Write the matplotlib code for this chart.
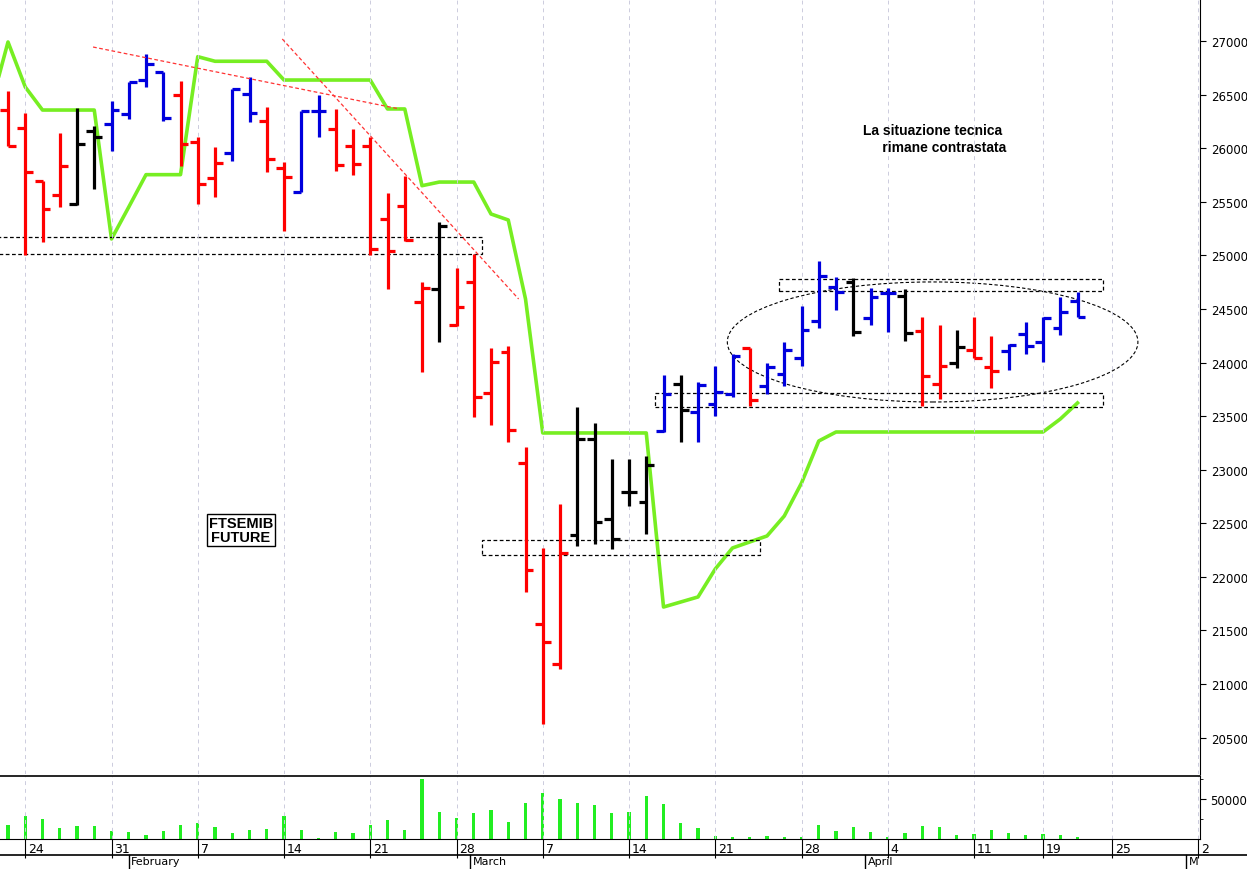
import numpy as np
import matplotlib.pyplot as plt
import matplotlib.transforms as mtransforms
from matplotlib.patches import Rectangle, Ellipse

# trading day index 0 = 21 Jan
high = [26536, 26325, 25697, 26142, 26375, 26204, 26443, 26620, 26879, 26708,
        26624, 26107, 26008, 26552, 26667, 26387, 25868, 26344, 26496, 26366,
        26179, 26101, 25580, 25743, 24754, 25308, 24879, 25013, 24133, 24157,
        23209, 22267, 22680, 23588, 23433, 23097, 23097, 23128, 23880, 23880,
        23820, 23965, 24080, 24133, 23995, 24189, 24525, 24950, 24795, 24786,
        24693, 24693, 24686, 24428, 24350, 24304, 24422, 24250, 24173, 24381,
        24422, 24609, 24661]
low = [26020, 25006, 25122, 25448, 25470, 25619, 25977, 26272, 26568, 26256,
       25837, 25479, 25542, 25885, 26241, 25775, 25230, 25594, 26102, 25790,
       25753, 25006, 24686, 25134, 23909, 24189, 24338, 23489, 23417, 23261,
       21862, 20627, 21140, 22291, 22307, 22260, 22664, 22398, 23350, 23260,
       23260, 23504, 23676, 23598, 23707, 23778, 23965, 24319, 24490, 24245,
       24350, 24288, 24204, 23598, 23660, 23949, 24042, 23760, 23933, 24080,
       24002, 24257, 24422]
opn = [26359, 26185, 25697, 25566, 25476, 26160, 26223, 26319, 26639, 26708,
       26496, 26055, 25722, 25952, 26505, 26251, 25812, 25594, 26350, 26179,
       26018, 26024, 25339, 25463, 24568, 24686, 24350, 24749, 23717, 24095,
       23062, 21556, 21187, 22394, 23287, 22540, 22790, 22695, 23364, 23800,
       23535, 23613, 23703, 24133, 23778, 23893, 24039, 24390, 24702, 24749,
       24413, 24646, 24618, 24297, 23800, 23993, 24117, 23961, 24105, 24266,
       24194, 24320, 24577]
close = [26020, 25775, 25432, 25837, 26039, 26104, 26356, 26620, 26783, 26279,
         26039, 25666, 25862, 26552, 26325, 25899, 25728, 26344, 26350, 25843,
         25852, 25059, 25040, 25146, 24696, 25277, 24518, 23676, 24002, 23373,
         22065, 21390, 22220, 23287, 22510, 22354, 22790, 23040, 23703, 23557,
         23790, 23723, 24058, 23650, 23955, 24116, 24306, 24810, 24661, 24282,
         24609, 24646, 24273, 23877, 23965, 24148, 24042, 23918, 24166, 24152,
         24413, 24470, 24422]
colors = "rrrrkkbbbbrrrbbrrbbrrrrrrkrrrrrrrkkkkkbkbbbrbbbbbkbbkrrkrrbbbbb"
volume = [17500, 29000, 25000, 13300, 15800, 16700, 10000, 8300, 5000, 10000,
          18000, 20000, 14600, 7500, 11000, 12000, 28700, 11000, 1500, 8300,
          7500, 18000, 23700, 11000, 75000, 33700, 26700, 33000, 36000, 21700,
          45000, 57500, 49500, 45000, 42500, 33000, 33700, 54000, 43700, 20000,
          13700, 3700, 2500, 2000, 3700, 3000, 2000, 18000, 10000, 14600,
          9200, 2500, 7000, 15800, 14600, 5000, 6200, 11000, 7000, 5000,
          5800, 5000, 2500]
# indicator line, starts one day before first bar
stop_line = [26389, 26991, 26571, 26356, 26356, 26356, 26356, 25153, 25451, 25753,
             25753, 25753, 26854, 26811, 26811, 26811, 26811, 26636, 26636, 26636,
             26636, 26636, 26636, 26366, 26366, 25650, 25684, 25684, 25684, 25386,
             25330, 24593, 23343, 23343, 23343, 23343, 23343, 23343, 23343, 21719,
             21766, 21813, 22074, 22270, 22326, 22382, 22568, 22876, 23268, 23352,
             23352, 23352, 23352, 23352, 23352, 23352, 23352, 23352, 23352, 23352,
             23352, 23352, 23473, 23623]

date_ticks = [1, 6, 11, 16, 21, 26, 31, 36, 41, 46, 51, 56, 60, 64, 69]
date_labels = ["24", "31", "7", "14", "21", "28", "7", "14", "21", "28", "4", "11", "19", "25", "2"]
month_pos = [7, 26.8, 49.7, 68.3]
month_labels = ["February", "March", "April", "M"]

# support / resistance boxes: (x0, x1, low, high)
boxes = [(-1, 27.5, 25013, 25171), (27.5, 43.6, 22204, 22344),
         (44.7, 63.5, 24667, 24779), (37.5, 63.5, 23585, 23716)]
trend_lines = [((4.93, 22.7), (26944, 26366)), ((15.9, 29.6), (27019, 24593))]

cmap = {"r": "#ff0000", "b": "#0000dd", "k": "#000000"}

fig = plt.figure(figsize=(12.47, 8.70), dpi=100)
ax = fig.add_axes([0, 1 - 775 / 870, 1200 / 1247, 775 / 870])
axv = fig.add_axes([0, 30 / 870, 1200 / 1247, 63 / 870])

xs = np.arange(len(high))
for i in xs:
    c = cmap[colors[i]]
    ax.plot([i, i], [low[i], high[i]], color=c, lw=2.3, solid_capstyle="butt")
    ax.plot([i - 0.45, i], [opn[i], opn[i]], color=c, lw=2.3, solid_capstyle="butt")
    ax.plot([i, i + 0.45], [close[i], close[i]], color=c, lw=2.3, solid_capstyle="butt")

ax.plot(np.arange(-1, len(high)), stop_line, color="#77ee22", lw=2.6, zorder=1)

for x0, x1, lo, hi in boxes:
    ax.add_patch(Rectangle((x0, lo), x1 - x0, hi - lo, fill=False, ls=(0, (3, 2)),
                           lw=0.9, ec="black"))
ax.add_patch(Ellipse((53.6, 24192), 23.8, 1120, fill=False, ls=(0, (3, 2)),
                     lw=0.8, ec="black"))
for lx, ly in trend_lines:
    ax.plot(lx, ly, color="#ff3333", lw=0.9, ls=(0, (3, 2)))

ax.text(53.6, 26090, "La situazione tecnica\n      rimane contrastata", ha="center",
        va="center", fontsize=10, fontweight="bold", family="Liberation Sans")
ax.text(13.5, 22440, "FTSEMIB\nFUTURE", ha="center", va="center", fontsize=10.5,
        fontweight="bold", family="Liberation Sans", linespacing=1.0,
        bbox=dict(boxstyle="square,pad=0.15", fc="white", ec="black", lw=1))

xlim = (-0.464, 69.1)
ax.set_xlim(*xlim)
ax.set_ylim(20161, 27392)
ax.yaxis.tick_right()
ax.set_yticks(np.arange(20500, 27001, 500))
ax.tick_params(axis="y", labelsize=8.5, length=4, pad=4)
ax.set_xticks(date_ticks)
ax.tick_params(axis="x", length=0, labelbottom=False)
ax.grid(axis="x", color="#ccccdd", ls=(0, (4, 4)), lw=0.7)
for s in ["top", "left", "bottom"]:
    ax.spines[s].set_visible(False)

axv.bar(xs, volume, width=0.18, color="#22ee22")
axv.set_xlim(*xlim)
axv.set_ylim(0, 78750)
axv.yaxis.tick_right()
axv.set_yticks([50000])
axv.set_yticks([25000, 75000], minor=True)
axv.tick_params(axis="y", labelsize=8.5, length=4)
axv.set_xticks(date_ticks)
axv.set_xticklabels(date_labels, ha="left")
axv.tick_params(axis="x", length=14, direction="out", labelsize=9, pad=-12)
offset = mtransforms.ScaledTranslation(3 / 100, 0, fig.dpi_scale_trans)
for lbl in axv.get_xticklabels():
    lbl.set_transform(lbl.get_transform() + offset)
axv.grid(axis="x", color="#ccccdd", ls=(0, (4, 4)), lw=0.7)
axv.spines["left"].set_visible(False)
axv.spines["top"].set_linewidth(1.2)

trans = mtransforms.blended_transform_factory(axv.transData, axv.transAxes)
axv.plot([xlim[0], 72], [-0.25, -0.25], color="black", lw=1.2, transform=trans, clip_on=False)
for mp, ml in zip(month_pos, month_labels):
    axv.plot([mp, mp], [-0.25, -0.48], color="black", lw=1, transform=trans, clip_on=False)
    axv.text(mp + 0.15, -0.27, ml, ha="left", va="top", fontsize=8, transform=trans,
             family="Liberation Sans Narrow")

fig.savefig("out.png", dpi=100)
